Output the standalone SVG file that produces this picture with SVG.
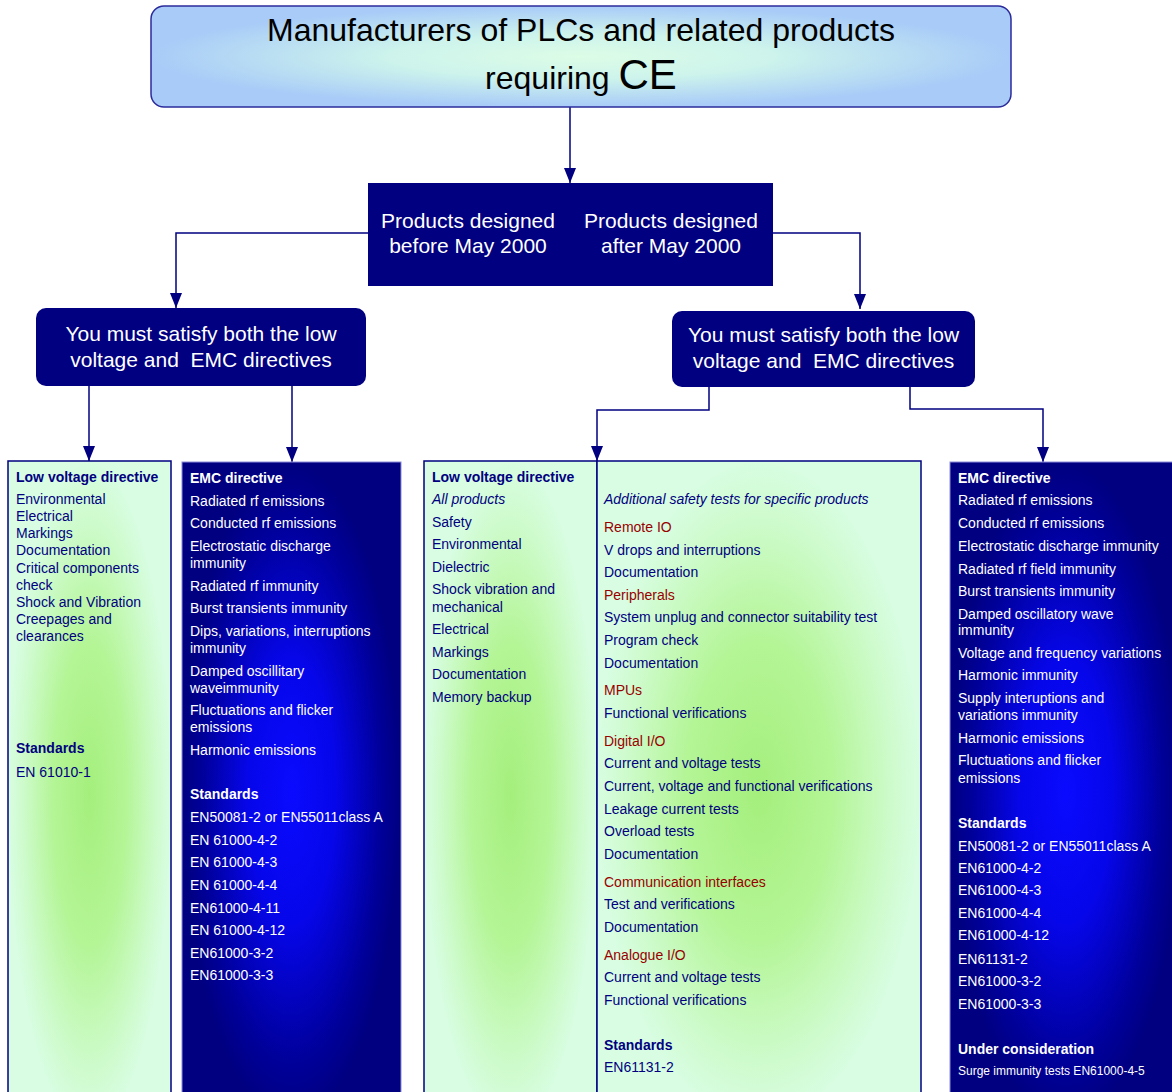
<svg xmlns="http://www.w3.org/2000/svg" width="1172" height="1092" viewBox="0 0 1172 1092">
<defs>
<radialGradient id="gTop" cx="0.5" cy="0.5" r="0.5">
<stop offset="0" stop-color="#dcfde6"/>
<stop offset="0.45" stop-color="#cdf3ec"/>
<stop offset="1" stop-color="#a8cbf8"/>
</radialGradient>
<radialGradient id="gGreen" cx="0.5" cy="0.5" r="0.5">
<stop offset="0" stop-color="#a4ef7c"/>
<stop offset="0.45" stop-color="#b4f596"/>
<stop offset="0.82" stop-color="#cefbcc"/>
<stop offset="1" stop-color="#d8fde2"/>
</radialGradient>
<radialGradient id="gBlue" cx="0.5" cy="0.5" r="0.5">
<stop offset="0" stop-color="#0a0aff"/>
<stop offset="0.4" stop-color="#0606ea"/>
<stop offset="0.82" stop-color="#00009a"/>
<stop offset="1" stop-color="#000080"/>
</radialGradient>
<marker id="arr" markerUnits="userSpaceOnUse" markerWidth="15" markerHeight="12" refX="15" refY="6" orient="auto">
<path d="M0,0 L15,6 L0,12 z" fill="#000080"/>
</marker>
<style>
.t{font-family:"Liberation Sans",Arial,sans-serif;}
.title{font-size:32px;fill:#000000;text-anchor:middle;}
.wt{font-size:21px;fill:#ffffff;text-anchor:middle;}
.lv{font-size:14px;fill:#000080;}
.em{font-size:14px;fill:#ffffff;}
.sm{font-size:12px;}
.b{font-weight:bold;}
.i{font-style:italic;}
.red{fill:#990000;}
.conn{fill:none;stroke:#000080;stroke-width:1.5;marker-end:url(#arr);}
</style>
</defs>

<g id="connectors">
<path class="conn" d="M570,107 V183"/>
<path class="conn" d="M368,233 H176 V308"/>
<path class="conn" d="M773,233 H860 V309"/>
<path class="conn" d="M89,386 V461"/>
<path class="conn" d="M292,386 V462"/>
<path class="conn" d="M709,387 V410 H597 V461"/>
<path class="conn" d="M910,387 V409 H1043 V462"/>
</g>

<g id="top">
<rect x="151" y="6" width="860" height="101" rx="13" fill="url(#gTop)" stroke="#2b2b9b" stroke-width="1.5"/>
<text class="t title" x="581" y="41">Manufacturers of PLCs and related products</text>
<text class="t title" x="581" y="89">requiring <tspan style="font-size:42px">CE</tspan></text>
</g>

<g id="products">
<rect x="368" y="183" width="405" height="103" fill="#000080"/>
<text class="t wt" x="468" y="228">Products designed</text>
<text class="t wt" x="468" y="253">before May 2000</text>
<text class="t wt" x="671" y="228">Products designed</text>
<text class="t wt" x="671" y="253">after May 2000</text>
</g>

<g id="must-left">
<rect x="36" y="308" width="330" height="78" rx="10" fill="#000080"/>
<text class="t wt" x="201" y="341">You must satisfy both the low</text>
<text class="t wt" x="201" y="367" xml:space="preserve">voltage and  EMC directives</text>
</g>

<g id="must-right">
<rect x="672" y="311" width="303" height="76" rx="10" fill="#000080"/>
<text class="t wt" x="823.5" y="342">You must satisfy both the low</text>
<text class="t wt" x="823.5" y="368" xml:space="preserve">voltage and  EMC directives</text>
</g>

<g id="lv-left">
<rect x="8" y="461" width="163" height="668" fill="url(#gGreen)" stroke="#000080" stroke-width="1.5"/>
<text class="t lv b" x="16" y="482">Low voltage directive</text>
<text class="t lv" x="16" y="504">Environmental</text>
<text class="t lv" x="16" y="521">Electrical</text>
<text class="t lv" x="16" y="538">Markings</text>
<text class="t lv" x="16" y="555">Documentation</text>
<text class="t lv" x="16" y="572.5">Critical components</text>
<text class="t lv" x="16" y="589.5">check</text>
<text class="t lv" x="16" y="606.5">Shock and Vibration</text>
<text class="t lv" x="16" y="623.5">Creepages and</text>
<text class="t lv" x="16" y="641">clearances</text>
<text class="t lv b" x="16" y="753">Standards</text>
<text class="t lv" x="16" y="776.5">EN 61010-1</text>
</g>

<g id="emc-left">
<rect x="182" y="462" width="219" height="660" fill="url(#gBlue)" stroke="#8c8cd8" stroke-width="1"/>
<text class="t em b" x="190" y="483">EMC directive</text>
<text class="t em" x="190" y="506">Radiated rf emissions</text>
<text class="t em" x="190" y="528">Conducted rf emissions</text>
<text class="t em" x="190" y="551">Electrostatic discharge</text>
<text class="t em" x="190" y="567.5">immunity</text>
<text class="t em" x="190" y="591">Radiated rf immunity</text>
<text class="t em" x="190" y="613">Burst transients immunity</text>
<text class="t em" x="190" y="635.5">Dips, variations, interruptions</text>
<text class="t em" x="190" y="652.5">immunity</text>
<text class="t em" x="190" y="675.5">Damped oscillitary</text>
<text class="t em" x="190" y="692.5">waveimmunity</text>
<text class="t em" x="190" y="714.5">Fluctuations and flicker</text>
<text class="t em" x="190" y="732">emissions</text>
<text class="t em" x="190" y="754.5">Harmonic emissions</text>
<text class="t em b" x="190" y="799">Standards</text>
<text class="t em" x="190" y="822">EN50081-2 or EN55011class A</text>
<text class="t em" x="190" y="844.5">EN 61000-4-2</text>
<text class="t em" x="190" y="867">EN 61000-4-3</text>
<text class="t em" x="190" y="890">EN 61000-4-4</text>
<text class="t em" x="190" y="912.5">EN61000-4-11</text>
<text class="t em" x="190" y="935">EN 61000-4-12</text>
<text class="t em" x="190" y="957.5">EN61000-3-2</text>
<text class="t em" x="190" y="980">EN61000-3-3</text>
</g>

<g id="lv-mid">
<rect x="424" y="461" width="173" height="668" fill="url(#gGreen)" stroke="#000080" stroke-width="1.5"/>
<rect x="597" y="461" width="324" height="660" fill="url(#gGreen)" stroke="#000080" stroke-width="1.5"/>
<text class="t lv b" x="432" y="482">Low voltage directive</text>
<text class="t lv i" x="432" y="504">All products</text>
<text class="t lv" x="432" y="527">Safety</text>
<text class="t lv" x="432" y="549">Environmental</text>
<text class="t lv" x="432" y="572">Dielectric</text>
<text class="t lv" x="432" y="594">Shock vibration and</text>
<text class="t lv" x="432" y="611.5">mechanical</text>
<text class="t lv" x="432" y="634">Electrical</text>
<text class="t lv" x="432" y="656.5">Markings</text>
<text class="t lv" x="432" y="679">Documentation</text>
<text class="t lv" x="432" y="702">Memory backup</text>
<text class="t lv i" x="604" y="504">Additional safety tests for specific products</text>
<text class="t lv red" x="604" y="532">Remote IO</text>
<text class="t lv" x="604" y="555">V drops and interruptions</text>
<text class="t lv" x="604" y="577">Documentation</text>
<text class="t lv red" x="604" y="600">Peripherals</text>
<text class="t lv" x="604" y="622">System unplug and connector suitability test</text>
<text class="t lv" x="604" y="645">Program check</text>
<text class="t lv" x="604" y="668">Documentation</text>
<text class="t lv red" x="604" y="695">MPUs</text>
<text class="t lv" x="604" y="718">Functional verifications</text>
<text class="t lv red" x="604" y="746">Digital I/O</text>
<text class="t lv" x="604" y="768">Current and voltage tests</text>
<text class="t lv" x="604" y="791">Current, voltage and functional verifications</text>
<text class="t lv" x="604" y="813.5">Leakage current tests</text>
<text class="t lv" x="604" y="836">Overload tests</text>
<text class="t lv" x="604" y="858.5">Documentation</text>
<text class="t lv red" x="604" y="887">Communication interfaces</text>
<text class="t lv" x="604" y="909">Test and verifications</text>
<text class="t lv" x="604" y="932">Documentation</text>
<text class="t lv red" x="604" y="959.5">Analogue I/O</text>
<text class="t lv" x="604" y="982">Current and voltage tests</text>
<text class="t lv" x="604" y="1005">Functional verifications</text>
<text class="t lv b" x="604" y="1050">Standards</text>
<text class="t lv" x="604" y="1072">EN61131-2</text>
</g>

<g id="emc-right">
<rect x="950" y="462" width="232" height="660" fill="url(#gBlue)" stroke="#8c8cd8" stroke-width="1"/>
<text class="t em b" x="958" y="482.5">EMC directive</text>
<text class="t em" x="958" y="505">Radiated rf emissions</text>
<text class="t em" x="958" y="528">Conducted rf emissions</text>
<text class="t em" x="958" y="551">Electrostatic discharge immunity</text>
<text class="t em" x="958" y="573.5">Radiated rf field immunity</text>
<text class="t em" x="958" y="596">Burst transients immunity</text>
<text class="t em" x="958" y="618.5">Damped oscillatory wave</text>
<text class="t em" x="958" y="634.5">immunity</text>
<text class="t em" x="958" y="657.5">Voltage and frequency variations</text>
<text class="t em" x="958" y="680">Harmonic immunity</text>
<text class="t em" x="958" y="703">Supply interuptions and</text>
<text class="t em" x="958" y="720">variations immunity</text>
<text class="t em" x="958" y="742.5">Harmonic emissions</text>
<text class="t em" x="958" y="765">Fluctuations and flicker</text>
<text class="t em" x="958" y="782.5">emissions</text>
<text class="t em b" x="958" y="827.5">Standards</text>
<text class="t em" x="958" y="851">EN50081-2 or EN55011class A</text>
<text class="t em" x="958" y="872.5">EN61000-4-2</text>
<text class="t em" x="958" y="895">EN61000-4-3</text>
<text class="t em" x="958" y="917.5">EN61000-4-4</text>
<text class="t em" x="958" y="940">EN61000-4-12</text>
<text class="t em" x="958" y="963.5">EN61131-2</text>
<text class="t em" x="958" y="986">EN61000-3-2</text>
<text class="t em" x="958" y="1008.5">EN61000-3-3</text>
<text class="t em b" x="958" y="1053.5">Under consideration</text>
<text class="t em sm" x="958" y="1074.5">Surge immunity tests EN61000-4-5</text>
</g>
</svg>
